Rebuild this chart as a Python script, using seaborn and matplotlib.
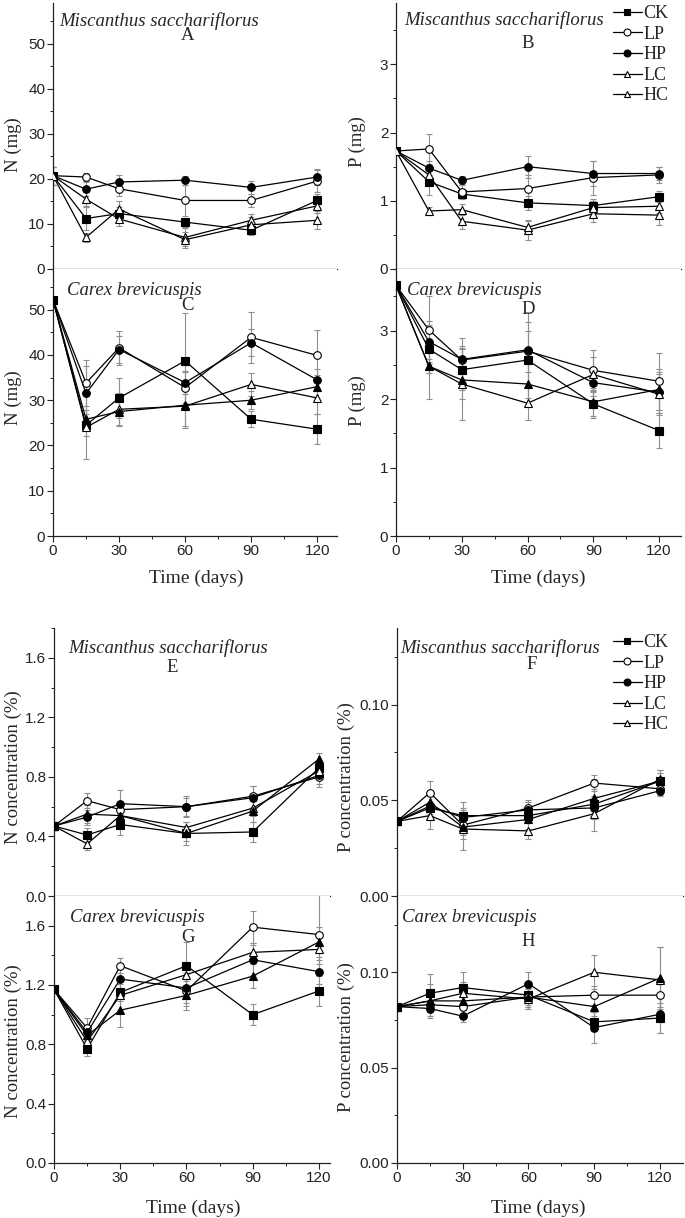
import matplotlib
matplotlib.use("Agg")
import matplotlib.pyplot as plt
from matplotlib.lines import Line2D
from matplotlib.ticker import MultipleLocator, FormatStrFormatter
import numpy as np
import seaborn as sns

days = [0, 15, 30, 60, 90, 120]
treatments = ['CK', 'LP', 'HP', 'LC', 'HC']

# rows: CK, LP, HP, LC, HC
n_mass_ms = [[20.7, 11.2, 12.3, 10.4, 8.6, 15.2],
             [20.7, 20.4, 17.8, 15.2, 15.2, 19.5],
             [20.7, 17.7, 19.3, 19.7, 18.1, 20.4],
             [20.7, 15.5, 11.1, 7.0, 10.8, 14.0],
             [20.7, 7.0, 13.3, 6.5, 9.8, 10.8]]
n_mass_ms_err = [[2, 2.5, 1.5, 1.0, 1.0, 1.5],
                 [2, 0.8, 1.5, 3.5, 1.5, 2.5],
                 [2, 1.5, 1.5, 1.0, 1.5, 1.8],
                 [2, 1.5, 1.5, 2.0, 1.5, 1.5],
                 [2, 1.0, 1.8, 1.8, 1.8, 2.0]]

p_mass_ms = [[1.73, 1.28, 1.10, 0.97, 0.93, 1.06],
             [1.73, 1.76, 1.13, 1.18, 1.34, 1.38],
             [1.73, 1.48, 1.30, 1.50, 1.40, 1.40],
             [1.73, 1.38, 0.70, 0.57, 0.81, 0.79],
             [1.73, 0.85, 0.87, 0.61, 0.90, 0.92]]
p_mass_ms_err = [[0.05, 0.2, 0.08, 0.1, 0.1, 0.08],
                 [0.05, 0.22, 0.1, 0.2, 0.25, 0.12],
                 [0.05, 0.1, 0.06, 0.16, 0.18, 0.1],
                 [0.05, 0.1, 0.12, 0.15, 0.12, 0.14],
                 [0.05, 0.06, 0.08, 0.1, 0.1, 0.1]]

n_mass_cb = [[52.2, 24.5, 30.5, 38.7, 25.8, 23.6],
             [52.2, 33.8, 41.6, 32.8, 43.9, 39.9],
             [52.2, 31.5, 41.2, 33.9, 42.7, 34.5],
             [52.2, 24.0, 28.0, 28.7, 33.5, 30.5],
             [52.2, 25.8, 27.5, 28.9, 30.0, 33.0]]
n_mass_cb_err = [[0.5, 2.5, 4.5, 10.5, 1.8, 3.3],
                 [0.5, 5.0, 3.8, 3.5, 5.6, 5.7],
                 [0.5, 6.0, 3.0, 2.5, 3.0, 2.5],
                 [0.5, 7.0, 3.5, 4.5, 2.5, 3.5],
                 [0.5, 2.0, 3.3, 5.0, 2.0, 2.5]]

p_mass_cb = [[3.66, 2.73, 2.43, 2.57, 1.93, 1.54],
             [3.66, 3.01, 2.57, 2.70, 2.42, 2.26],
             [3.66, 2.84, 2.58, 2.72, 2.24, 2.10],
             [3.66, 2.48, 2.22, 1.94, 2.36, 2.07],
             [3.66, 2.48, 2.28, 2.22, 1.96, 2.14]]
p_mass_cb_err = [[0.05, 0.35, 0.3, 0.55, 0.2, 0.25],
                 [0.05, 0.5, 0.32, 0.3, 0.3, 0.42],
                 [0.05, 0.3, 0.2, 0.55, 0.2, 0.3],
                 [0.05, 0.48, 0.52, 0.25, 0.25, 0.3],
                 [0.05, 0.1, 0.28, 0.3, 0.2, 0.3]]

n_conc_ms = [[0.47, 0.41, 0.48, 0.42, 0.43, 0.86],
             [0.47, 0.64, 0.58, 0.60, 0.67, 0.80],
             [0.47, 0.53, 0.62, 0.60, 0.66, 0.81],
             [0.47, 0.35, 0.54, 0.46, 0.59, 0.84],
             [0.47, 0.55, 0.54, 0.42, 0.57, 0.92]]
n_conc_ms_err = [[0.03, 0.05, 0.07, 0.05, 0.07, 0.05],
                 [0.03, 0.05, 0.05, 0.07, 0.07, 0.07],
                 [0.03, 0.05, 0.09, 0.06, 0.08, 0.06],
                 [0.03, 0.04, 0.05, 0.04, 0.05, 0.05],
                 [0.03, 0.06, 0.05, 0.08, 0.07, 0.04]]

p_conc_ms = [[0.039, 0.046, 0.042, 0.042, 0.048, 0.060],
             [0.039, 0.054, 0.037, 0.046, 0.059, 0.056],
             [0.039, 0.047, 0.041, 0.045, 0.046, 0.055],
             [0.039, 0.042, 0.035, 0.034, 0.043, 0.061],
             [0.039, 0.049, 0.036, 0.040, 0.051, 0.060]]
p_conc_ms_err = [[0.002, 0.006, 0.007, 0.004, 0.008, 0.004],
                 [0.002, 0.006, 0.005, 0.004, 0.004, 0.003],
                 [0.002, 0.005, 0.004, 0.004, 0.006, 0.003],
                 [0.002, 0.007, 0.011, 0.004, 0.009, 0.005],
                 [0.002, 0.006, 0.006, 0.005, 0.010, 0.006]]

n_conc_cb = [[1.17, 0.77, 1.15, 1.33, 1.00, 1.16],
             [1.17, 0.91, 1.33, 1.16, 1.59, 1.54],
             [1.17, 0.88, 1.24, 1.18, 1.37, 1.29],
             [1.17, 0.82, 1.13, 1.27, 1.42, 1.44],
             [1.17, 0.86, 1.03, 1.13, 1.26, 1.49]]
n_conc_cb_err = [[0.02, 0.05, 0.06, 0.16, 0.07, 0.1],
                 [0.02, 0.07, 0.05, 0.1, 0.11, 0.27],
                 [0.02, 0.05, 0.08, 0.1, 0.1, 0.08],
                 [0.02, 0.06, 0.1, 0.08, 0.06, 0.1],
                 [0.02, 0.05, 0.11, 0.1, 0.08, 0.1]]

p_conc_cb = [[0.082, 0.089, 0.092, 0.088, 0.074, 0.076],
             [0.082, 0.083, 0.082, 0.087, 0.088, 0.088],
             [0.082, 0.081, 0.077, 0.094, 0.071, 0.078],
             [0.082, 0.085, 0.089, 0.086, 0.100, 0.096],
             [0.082, 0.085, 0.085, 0.087, 0.082, 0.097]]
p_conc_cb_err = [[0.001, 0.010, 0.008, 0.005, 0.005, 0.008],
                 [0.001, 0.004, 0.006, 0.005, 0.005, 0.006],
                 [0.001, 0.004, 0.003, 0.006, 0.008, 0.010],
                 [0.001, 0.009, 0.006, 0.005, 0.009, 0.017],
                 [0.001, 0.004, 0.005, 0.006, 0.005, 0.016]]

sns.set_style("ticks")
plt.rcParams['font.family'] = ['Liberation Sans', 'DejaVu Sans']
SERIF = ['Liberation Serif', 'DejaVu Serif']

W, H = 685, 1218
fig = plt.figure(figsize=(W / 100, H / 100), dpi=100)


def box(l, r, t, b):
    return [l / W, 1 - b / H, (r - l) / W, (b - t) / H]


def ftext(x, y, s, **kw):
    # place text at pixel position (from top-left)
    fig.text(x / W, 1 - y / H, s, family=SERIF, **kw)


markers = ['s', 'o', 'o', '^', '^']
faces = ['black', 'white', 'black', 'white', 'black']


def panel(rect, vals, errs, xmax, ymax, major, minor, fmt,
          species, sp_xy, letter, let_xy, bottom=False, open_hc=False):
    ax = fig.add_axes(box(*rect))
    for i, t in enumerate(treatments):
        ax.errorbar(days, vals[i], yerr=errs[i], fmt='none', ecolor='#8f8f8f',
                    elinewidth=0.8, capsize=2, capthick=0.8, zorder=1)
        fc = 'white' if (open_hc and i == 4) else faces[i]
        sns.lineplot(x=days, y=vals[i], ax=ax, color='black', lw=0.9,
                     marker=markers[i], ms=5.5, markerfacecolor=fc,
                     mec='black', mew=0.8, zorder=3, legend=False,
                     estimator=None, sort=False)
    ax.set_xlim(0, xmax)
    ax.set_ylim(0, ymax)
    ax.xaxis.set_major_locator(MultipleLocator(30))
    ax.xaxis.set_minor_locator(MultipleLocator(15))
    ax.yaxis.set_major_locator(MultipleLocator(major))
    ax.yaxis.set_minor_locator(MultipleLocator(minor))
    ax.yaxis.set_major_formatter(FormatStrFormatter(fmt))
    sns.despine(ax=ax)
    for s in ['left', 'bottom']:
        ax.spines[s].set_linewidth(0.9)
        ax.spines[s].set_color('#222222')
    ax.tick_params(which='major', direction='out', length=4, width=0.8,
                   labelsize=11, pad=1.5, colors='#222222')
    ax.tick_params(which='minor', direction='out', length=2.5, width=0.7,
                   colors='#222222')
    if not bottom:
        ax.tick_params(axis='x', labelbottom=False)
    ax.set_xlabel('')
    ax.set_ylabel('')
    ax.text(sp_xy[0], sp_xy[1], species, transform=ax.transAxes,
            family=SERIF, style='italic', fontsize=13.5, va='center', ha='left')
    ax.text(let_xy[0], let_xy[1], letter, transform=ax.transAxes,
            family=SERIF, fontsize=13.5, va='center', ha='center')
    return ax


MS = 'Miscanthus sacchariflorus'
CB = 'Carex brevicuspis'

panel((53, 337, 3, 269), n_mass_ms, n_mass_ms_err, 129, 59, 10, 5, '%d',
      MS, (0.022, 0.932), 'A', (0.475, 0.876), open_hc=True)
axB = panel((396, 681, 3, 269), p_mass_ms, p_mass_ms_err, 130, 3.9, 1, 0.5, '%d',
            MS, (0.028, 0.936), 'B', (0.463, 0.846), open_hc=True)
panel((53, 337, 269, 536), n_mass_cb, n_mass_cb_err, 129, 59, 10, 5, '%d',
      CB, (0.05, 0.921), 'C', (0.475, 0.865), bottom=True)
panel((396, 681, 269, 536), p_mass_cb, p_mass_cb_err, 130, 3.9, 1, 0.5, '%d',
      CB, (0.04, 0.921), 'D', (0.463, 0.85), bottom=True)
panel((54, 330, 628, 896), n_conc_ms, n_conc_ms_err, 125, 1.8, 0.4, 0.2, '%.1f',
      MS, (0.05, 0.925), 'E', (0.428, 0.851))
axF = panel((397, 683, 628, 896), p_conc_ms, p_conc_ms_err, 130.5, 0.14, 0.05, 0.025,
            '%.2f', MS, (0.01, 0.925), 'F', (0.472, 0.862))
panel((54, 330, 896, 1163), n_conc_cb, n_conc_cb_err, 125, 1.8, 0.4, 0.2, '%.1f',
      CB, (0.058, 0.921), 'G', (0.486, 0.846), bottom=True)
panel((397, 683, 896, 1163), p_conc_cb, p_conc_cb_err, 130.5, 0.14, 0.05, 0.025,
      '%.2f', CB, (0.017, 0.921), 'H', (0.458, 0.828), bottom=True)

# axis titles
yl = dict(rotation=90, ha='center', va='center', fontsize=13.5)
ftext(13, 145, 'N (mg)', **yl)
ftext(13, 398, 'N (mg)', **yl)
ftext(357, 142, 'P (mg)', **yl)
ftext(357, 401, 'P (mg)', **yl)
ftext(13, 767, 'N concentration (%)', **yl)
ftext(13, 1041, 'N concentration (%)', **yl)
ftext(346, 777, 'P concentration (%)', **yl)
ftext(346, 1037, 'P concentration (%)', **yl)
xl = dict(ha='center', va='top', fontsize=14)
ftext(196, 570, 'Time (days)', **xl)
ftext(538, 570, 'Time (days)', **xl)
ftext(193, 1200, 'Time (days)', **xl)
ftext(538, 1200, 'Time (days)', **xl)

# legend (both triangles are drawn open in the original key)
leg_faces = ['black', 'white', 'black', 'white', 'white']
handles = [Line2D([], [], color='black', lw=0.9, marker=markers[i], ms=5,
                  mfc=leg_faces[i], mec='black', mew=0.8)
           for i in range(5)]
for ax, top in [(axB, 5), (axF, 634)]:
    ax.legend(handles, treatments, loc='upper left', frameon=False,
              bbox_to_anchor=(613 / W, 1 - top / H), bbox_transform=fig.transFigure,
              prop={'family': SERIF, 'size': 13}, handlelength=1.6,
              handletextpad=0.1, labelspacing=0.2, borderpad=0, borderaxespad=0)

fig.savefig('out.png', dpi=100)
